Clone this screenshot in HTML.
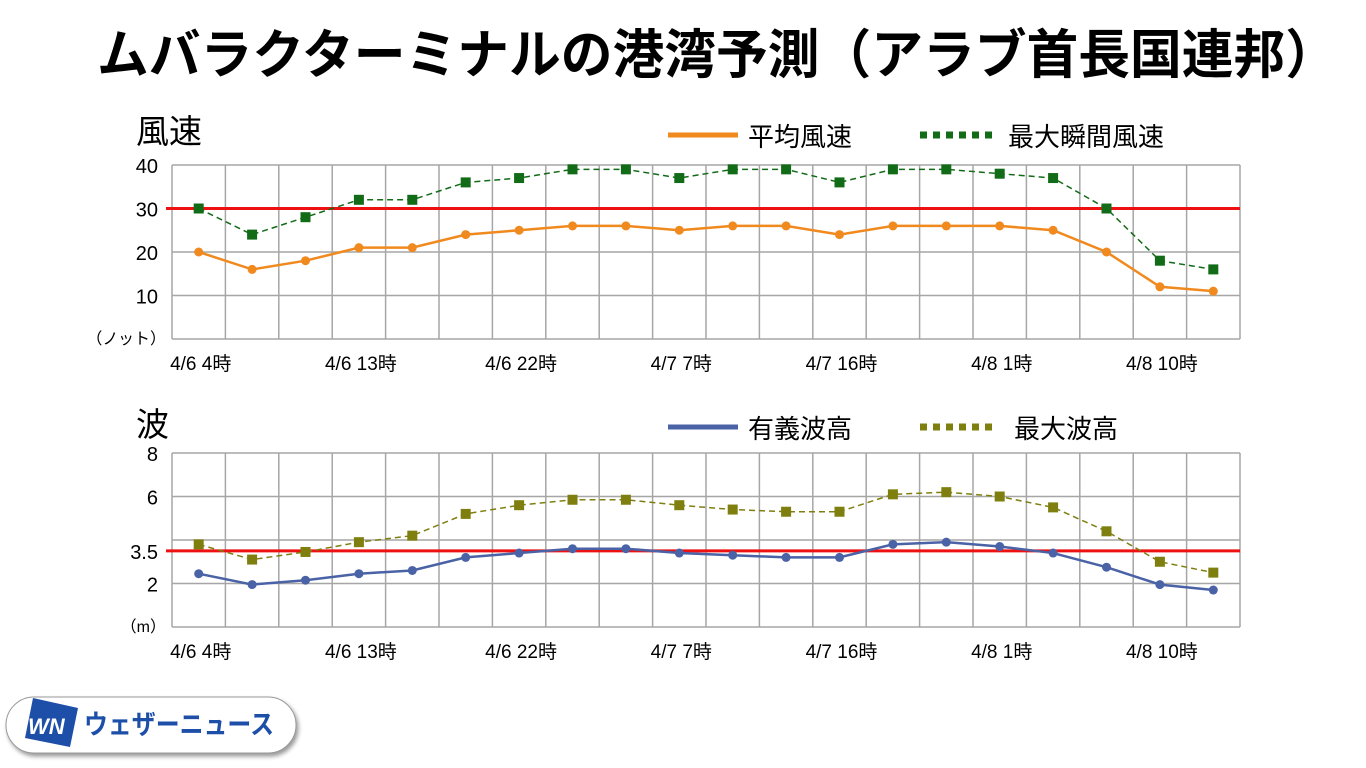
<!DOCTYPE html>
<html><head><meta charset="utf-8">
<style>
body{margin:0;width:1366px;height:768px;background:#fff;overflow:hidden;font-family:"Liberation Sans","Noto Sans CJK JP",sans-serif;}
svg{position:absolute;left:0;top:0}
</style></head>
<body>
<svg id="chart" width="1366" height="768" font-family="'Liberation Sans','Noto Sans CJK JP',sans-serif">
<text x="97" y="73" font-size="53" font-weight="bold" fill="#000" textLength="1240" lengthAdjust="spacingAndGlyphs">ムバラクターミナルの港湾予測（アラブ首長国連邦）</text>
<text x="136" y="143" font-size="33" fill="#000">風速</text>
<text x="136" y="436" font-size="33" fill="#000">波</text>
<g>
<line x1="668" y1="135" x2="738" y2="135" stroke="#f0891e" stroke-width="5"/>
<text x="748" y="146" font-size="26">平均風速</text>
<line x1="920" y1="135" x2="998" y2="135" stroke="#126b16" stroke-width="7" stroke-dasharray="7,6"/>
<text x="1008" y="146" font-size="26">最大瞬間風速</text>
</g>
<g>
<line x1="668" y1="427" x2="738" y2="427" stroke="#4a62a6" stroke-width="5"/>
<text x="748" y="438" font-size="26">有義波高</text>
<line x1="920" y1="427" x2="998" y2="427" stroke="#7f7f10" stroke-width="7" stroke-dasharray="7,6"/>
<text x="1014" y="438" font-size="26">最大波高</text>
</g>
<g id="top"></g>
<g id="bot"></g>
<g>
<rect x="6" y="697" width="290" height="56" rx="28" fill="#fff" stroke="#999" stroke-width="1" style="filter:drop-shadow(2px 3px 2px rgba(0,0,0,0.4))"/>
<polygon points="33,698 78,708 70,747 25,738" fill="#1d4fa8"/>
<text x="28" y="734" font-size="22" font-weight="bold" font-style="italic" fill="#fff">WN</text>
<text x="84" y="734" font-size="27" font-weight="bold" fill="#1d4fa8" textLength="190" lengthAdjust="spacingAndGlyphs">ウェザーニュース</text>
</g>
</svg>
<script>
const categories=["4/6 4時","","","4/6 13時","","","4/6 22時","","","4/7 7時","","","4/7 16時","","","4/8 1時","","","4/8 10時",""];
const windAvg=[20,16,18,21,21,24,25,26,26,25,26,26,24,26,26,26,25,20,12,11];
const windMax=[30,24,28,32,32,36,37,39,39,37,39,39,36,39,39,38,37,30,18,16];
const windTicks=[10,20,30,40];
const windLimit=30;
const waveSig=[2.45,1.95,2.15,2.45,2.6,3.2,3.4,3.6,3.6,3.4,3.3,3.2,3.2,3.8,3.9,3.7,3.4,2.75,1.95,1.7];
const waveMax=[3.8,3.1,3.45,3.9,4.2,5.2,5.6,5.85,5.85,5.6,5.4,5.3,5.3,6.1,6.2,6.0,5.5,4.4,3.0,2.5];
const waveGrid=[2,4,6,8];
const waveTicks=["2","3.5","6","8"];
const waveTickVals=[2,3.5,6,8];
const waveLimit=3.5;
const NS="http://www.w3.org/2000/svg";
function mk(p,t,a){const e=document.createElementNS(NS,t);for(const k in a)e.setAttribute(k,a[k]);p.appendChild(e);return e;}
const L=172,R=1240,n=categories.length,cw=(R-L)/n;
function xs(i){return L+cw*(i+0.5);}
function drawChart(g,top,bot,max,grid,tickVals,tickLabels,limit,s1,s2,c1,c2,unit,labelY){
  const ys=v=>bot-(v/max)*(bot-top);
  for(let i=0;i<=n;i++){const l=mk(g,'line',{x1:L+cw*i,y1:top,x2:L+cw*i,y2:bot,stroke:'#a6a6a6','stroke-width':1.5});
    
    }
  grid.concat([0]).forEach(v=>{const l=mk(g,'line',{x1:L,y1:ys(v),x2:R,y2:ys(v),stroke:'#a6a6a6','stroke-width':1.5});
    
    });
  tickVals.forEach((v,i)=>{const t=mk(g,'text',{x:158,y:ys(v)+8,'font-size':20,'text-anchor':'end'});t.textContent=tickLabels[i];
    
    });
  const u=mk(g,'text',{x:166,y:bot+5,'font-size':16,'text-anchor':'end'});u.textContent=unit;
  
  
  categories.forEach((c,i)=>{if(!c)return;const t=mk(g,'text',{x:xs(i)+2,y:labelY,'font-size':19,'text-anchor':'middle'});t.textContent=c;
    
    });
  const rl=mk(g,'line',{x1:166,y1:ys(limit),x2:R,y2:ys(limit),stroke:'#ee1111','stroke-width':3});
  
  
  const p2=mk(g,'polyline',{points:s2.map((v,i)=>xs(i)+','+ys(v)).join(' '),fill:'none',stroke:c2,'stroke-width':1.5,'stroke-dasharray':'6,4'});
  
  
  s2.forEach((v,i)=>{const r=mk(g,'rect',{x:xs(i)-5,y:ys(v)-5,width:10,height:10,fill:c2});
    
    });
  const p1=mk(g,'polyline',{points:s1.map((v,i)=>xs(i)+','+ys(v)).join(' '),fill:'none',stroke:c1,'stroke-width':2.5});
  
  
  s1.forEach((v,i)=>{const c=mk(g,'circle',{cx:xs(i),cy:ys(v),r:4.5,fill:c1});
    
    });
}
drawChart(document.getElementById('top'),165,339,40,windTicks,windTicks,windTicks.map(String),windLimit,windAvg,windMax,'#f0891e','#126b16','（ノット）',370);
drawChart(document.getElementById('bot'),453,627,8,waveGrid,waveTickVals,waveTicks,waveLimit,waveSig,waveMax,'#4a62a6','#7f7f10','（m）',658);
</script>
</body></html>
